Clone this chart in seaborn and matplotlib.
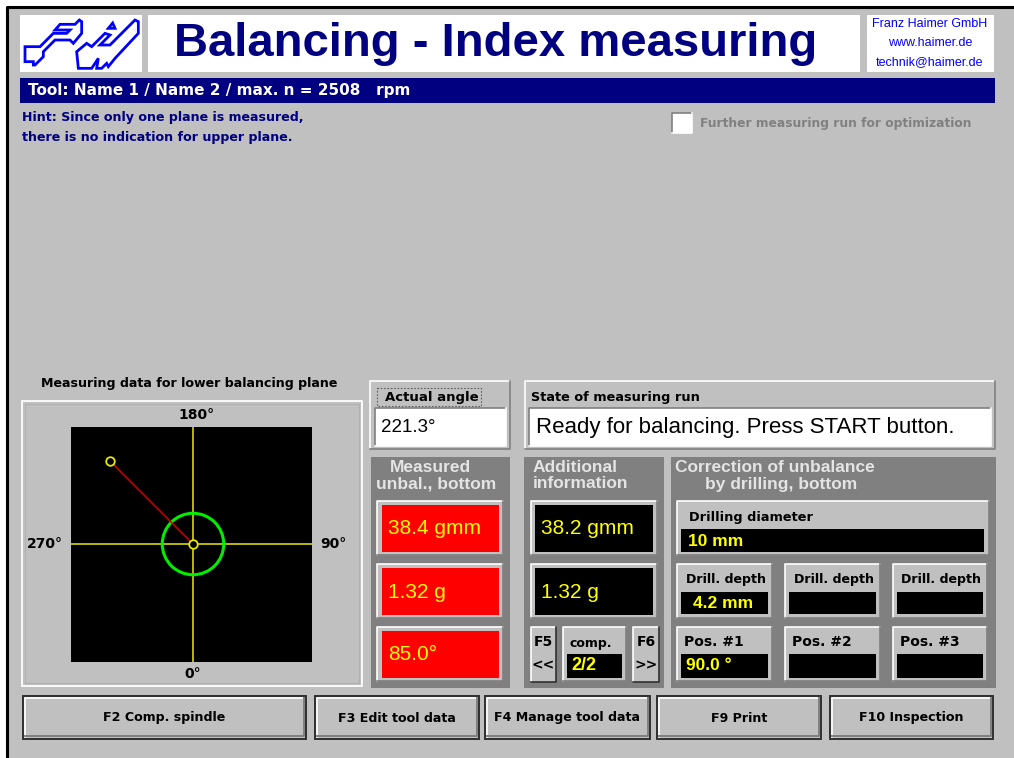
import numpy as np
import pandas as pd
import matplotlib
matplotlib.use("Agg")
import matplotlib.pyplot as plt
from matplotlib.patches import Rectangle, Circle, Polygon
import seaborn as sns

title = "Balancing - Index measuring"
company_lines = ["Franz Haimer GmbH", "www.haimer.de", "technik@haimer.de"]
tool_line = "Tool: Name 1 / Name 2 / max. n = 2508   rpm"
hint_lines = ["Hint: Since only one plane is measured,", "there is no indication for upper plane."]
checkbox_label = "Further measuring run for optimization"
plot_title = "Measuring data for lower balancing plane"
axis_labels = ["180°", "90°", "0°", "270°"]

unbalance_gmm = 38.4
vector_angle_deg = 225.0     # direction of the vector as drawn (0 at bottom, 90 right)
tolerance_gmm = 10.0

actual_angle = "221.3°"
state_text = "Ready for balancing. Press START button."
measured_values = ["38.4 gmm", "1.32 g", "85.0°"]
additional_values = ["38.2 gmm", "1.32 g"]
comp_value = "2/2"
drill_diameter = "10 mm"
drill_depths = ["4.2 mm", "", ""]
positions = ["90.0 °", "", ""]
pos_labels = ["Pos. #1", "Pos. #2", "Pos. #3"]
button_labels = ["F2 Comp. spindle", "F3 Edit tool data", "F4 Manage tool data", "F9 Print", "F10 Inspection"]

GRAY = "#c0c0c0"
DARK = "#808080"
NAVY = "#000080"
YEL = "#ffff00"
LIB = ["Liberation Sans", "DejaVu Sans"]
DJV = ["DejaVu Sans"]

plt.rcParams["font.family"] = LIB

fig = plt.figure(figsize=(10.14, 7.58), dpi=100)
ax = fig.add_axes([0, 0, 1, 1])
ax.set_xlim(0, 1014)
ax.set_ylim(758, 0)
ax.axis("off")


def box(x0, y0, x1, y1, fill, tl="white", br=DARK, lw=1.2, z=1):
    ax.add_patch(Rectangle((x0, y0), x1 - x0, y1 - y0, fc=fill, ec="none", zorder=z))
    if tl:
        ax.plot([x0, x0, x1], [y1, y0, y0], color=tl, lw=lw, zorder=z + 0.1)
    if br:
        ax.plot([x0, x1, x1], [y1, y1, y0], color=br, lw=lw, zorder=z + 0.1)


def txt(x, y, s, size=9, color="black", weight="bold", ha="left", fam=DJV, z=5):
    ax.text(x, y, s, fontsize=size, color=color, fontweight=weight, ha=ha, va="center",
            family=fam, zorder=z)


# window
ax.add_patch(Rectangle((7, 7), 1007, 751, fc=GRAY, ec="none", zorder=0))
ax.plot([7, 7, 1014], [758, 7, 7], color="black", lw=2.2, zorder=0.5)

# header
box(20, 15, 142, 72, "white", tl=None, br=None)
box(148, 15, 860, 72, "white", tl=None, br=None)
box(867, 15, 994, 72, "white", tl=None, br=None)
logo_left = [(15, 95), (60, 95), (100, 55), (140, 55), (150, 45), (105, 45), (120, 28), (165, 28),
             (178, 15), (185, 20), (185, 55), (160, 85), (150, 75), (105, 75), (70, 110), (70, 125),
             (45, 150), (40, 150), (40, 140), (15, 140)]
logo_right = [(170, 110), (200, 85), (215, 95), (255, 55), (270, 60), (240, 90), (270, 90), (345, 15),
              (355, 20), (355, 55), (285, 130), (265, 155), (260, 145), (245, 160), (230, 160),
              (235, 130), (215, 160), (175, 160)]
logo_a = [(265, 40), (278, 24), (285, 40)]
for pts in (logo_left, logo_right, logo_a):
    ax.add_patch(Polygon([(20 + a / 3, 15 + b / 3) for a, b in pts], closed=True, fill=False,
                         ec="#0000ff", lw=2.0, joinstyle="miter", zorder=2))
txt(496, 44, title, size=34, color=NAVY, ha="center", fam=LIB)
for i, line in enumerate(company_lines):
    ax.text(930, 24 + i * 19, line, fontsize=9, color="#0000ff", ha="center", va="center",
            family=["Liberation Sans Narrow", "Liberation Sans"], zorder=5)

box(20, 78, 995, 103, NAVY, tl=None, br=None)
txt(28, 90, tool_line, size=11, color="white")
for i, line in enumerate(hint_lines):
    txt(22, 118 + i * 19, line, size=9.1, color=NAVY)
box(672, 113, 692, 133, "white", tl=DARK, br="white")
txt(700, 123, checkbox_label, size=8.8, color=DARK)

# plot panel
txt(189, 383, plot_title, size=9.1, ha="center")
ax.add_patch(Rectangle((22, 401), 340, 285, fc="none", ec="white", lw=1.3, zorder=2))
ax.add_patch(Rectangle((25, 404), 334, 279, fc="none", ec="#b0b0b0", lw=0.8, zorder=2))
cx, cy = 193, 544
for lab, (lx, ly) in zip(axis_labels, [(cx + 3, 415), (333, cy), (cx, 674), (45, cy)]):
    txt(lx, ly, lab, size=10, ha="center")

# polar vector drawn with seaborn on a black axes
x0, x1, y0, y1 = 71, 312, 427, 662
pax = fig.add_axes([x0 / 1014, (758 - y1) / 758, (x1 - x0) / 1014, (y1 - y0) / 758])
scale = 3.073  # px per gmm
pax.set_xlim(-(cx - x0) / scale, (x1 - cx) / scale)
pax.set_ylim(-(y1 - cy) / scale, (cy - y0) / scale)
pax.set_facecolor("black")
for s in pax.spines.values():
    s.set_visible(False)
pax.set_xticks([])
pax.set_yticks([])
pax.axhline(0, color="#d8d800", lw=1.2, zorder=1)
pax.axvline(0, color="#d8d800", lw=1.2, zorder=1)
pax.add_patch(Circle((0, 0), tolerance_gmm, fill=False, ec="#00ee00", lw=2.2, zorder=2))
th = np.deg2rad(vector_angle_deg)
vec = pd.DataFrame({"x": [0.0, unbalance_gmm * np.sin(th)], "y": [0.0, -unbalance_gmm * np.cos(th)]})
sns.lineplot(data=vec, x="x", y="y", color="#d00000", lw=1.1, ax=pax, zorder=3)
sns.scatterplot(data=vec, x="x", y="y", color="black", edgecolor="#e8e800", s=38, linewidth=1.3,
                ax=pax, zorder=4)
pax.set_xlabel("")
pax.set_ylabel("")

# actual angle / state
box(370, 381, 510, 449, GRAY)
ax.add_patch(Rectangle((377, 388), 104, 18, fc="none", ec="#606060", lw=0.8, ls=(0, (1.5, 1.5)), zorder=3))
txt(432, 397, "Actual angle", size=9.5, ha="center")
box(375, 408, 506, 446, "white", tl=DARK, br="white")
txt(381, 428, actual_angle, size=13.5, weight="normal", fam=LIB)

box(525, 381, 995, 449, GRAY)
txt(531, 397, "State of measuring run", size=9.3)
box(529, 408, 991, 446, "white", tl=DARK, br="white")
txt(536, 427, state_text, size=16, weight="normal", fam=LIB)

# dark panels
for px0, px1 in [(371, 510), (524, 664), (671, 996)]:
    box(px0, 457, px1, 688, DARK, tl=None, br=None)
LIGHT = "#e4e4e4"
txt(430, 467, "Measured", size=12.5, color=LIGHT, ha="center", fam=LIB)
txt(436, 484, "unbal., bottom", size=12.5, color=LIGHT, ha="center", fam=LIB)
txt(533, 467, "Additional", size=12.5, color=LIGHT, fam=LIB)
txt(533, 484, "information", size=12.5, color=LIGHT, fam=LIB)
txt(675, 467, "Correction of unbalance", size=12.5, color=LIGHT, fam=LIB)
txt(705, 484, "by drilling, bottom", size=12.5, color=LIGHT, fam=LIB)

rows = [(501, 555), (564, 618), (627, 681)]
for (ry0, ry1), val in zip(rows, measured_values):
    box(377, ry0, 503, ry1, GRAY)
    box(382, ry0 + 4, 499, ry1 - 3, "#ff0000", tl=None, br=None)
    txt(388, (ry0 + ry1) / 2 + 1, val, size=15, color=YEL, weight="normal", fam=LIB)
for (ry0, ry1), val in zip(rows[:2], additional_values):
    box(531, ry0, 657, ry1, GRAY)
    box(535, ry0 + 4, 653, ry1 - 3, "black", tl=None, br=None)
    txt(541, (ry0 + ry1) / 2 + 1, val, size=15, color=YEL, weight="normal", fam=LIB)

# F5 / comp / F6
for bx0, bx1, lab, arr in [(531, 556, "F5", "<<"), (633, 659, "F6", ">>")]:
    box(bx0, 627, bx1, 682, GRAY, br="#303030")
    txt((bx0 + bx1) / 2, 642, lab, size=10, ha="center")
    txt((bx0 + bx1) / 2, 665, arr, size=10, ha="center")
box(563, 627, 626, 681, GRAY)
txt(591, 643, "comp.", size=9, ha="center")
box(567, 654, 622, 678, "black", tl=None, br=None)
txt(571, 666, comp_value, size=13, color=YEL, fam=LIB)

# correction panel
box(677, 501, 989, 555, GRAY)
txt(689, 517, "Drilling diameter", size=9.3)
box(681, 529, 984, 552, "black", tl=None, br=None)
txt(688, 541, drill_diameter, size=12.5, color=YEL, fam=LIB)
cols = [(677, 772), (785, 880), (893, 987)]
for (c0, c1), dep, pos, plab in zip(cols, drill_depths, positions, pos_labels):
    box(c0, 564, c1, 618, GRAY)
    txt((c0 + c1) / 2 + 1, 579, "Drill. depth", size=9.1, ha="center")
    box(c0 + 4, 592, c1 - 4, 614, "black", tl=None, br=None)
    txt(c0 + 16, 604, dep, size=12.5, color=YEL, fam=LIB)
    box(c0, 627, c1, 681, GRAY)
    txt(c0 + 7, 642, plab, size=10)
    box(c0 + 4, 654, c1 - 4, 678, "black", tl=None, br=None)
    txt(c0 + 9, 666, pos, size=12.5, color=YEL, fam=LIB)

# bottom buttons
for (b0, b1), lab in zip([(23, 306), (315, 479), (485, 650), (657, 821), (830, 993)], button_labels):
    ax.add_patch(Rectangle((b0, 696), b1 - b0, 43, fc=GRAY, ec="#303030", lw=1.4, zorder=2))
    ax.plot([b0 + 2, b0 + 2, b1 - 2], [737, 698, 698], color="white", lw=1.2, zorder=2.1)
    ax.plot([b0 + 2, b1 - 2, b1 - 2], [736, 736, 698], color=DARK, lw=1.4, zorder=2.1)
    txt((b0 + b1) / 2, 718, lab, size=9.1, ha="center")

fig.savefig("out.png", dpi=100)
